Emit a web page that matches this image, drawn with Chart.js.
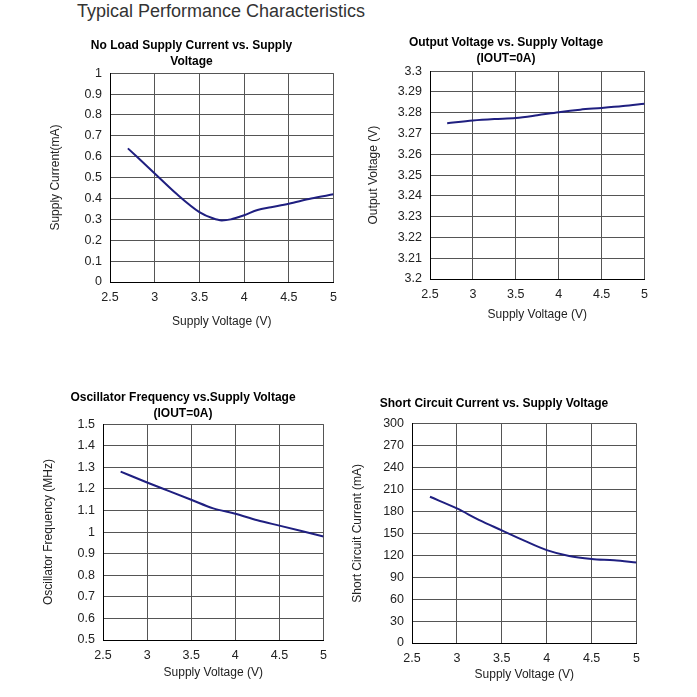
<!DOCTYPE html>
<html>
<head>
<meta charset="utf-8">
<script src="https://cdn.jsdelivr.net/npm/chart.js@4.4.1/dist/chart.umd.min.js"></script>
<style>
  html, body { margin: 0; padding: 0; background: #fff; }
  body { width: 697px; height: 697px; position: relative; overflow: hidden; font-family: "Liberation Sans", Arial, sans-serif; }
  #mainTitle { position: absolute; left: 77px; top: 1px; font-size: 18px; color: #333; }
  .box { position: absolute; }
</style>
</head>
<body>
<div id="mainTitle">Typical Performance Characteristics</div>
<div class="box" style="left:48px; top:36px; width:297px; height:293px;"><canvas id="c1"></canvas></div>
<div class="box" style="left:366px; top:34px; width:290px; height:288px;"><canvas id="c2"></canvas></div>
<div class="box" style="left:41px; top:387px; width:294px; height:293px;"><canvas id="c3"></canvas></div>
<div class="box" style="left:350px; top:396px; width:298px; height:286px;"><canvas id="c4"></canvas></div>
<script>
// Supply voltage axis shared by all four plots
const supplyVoltage = [2.7, 3.0, 3.25, 3.5, 3.75, 4.0, 4.25, 4.5, 4.75, 5.0];
const xTicks = [2.5, 3, 3.5, 4, 4.5, 5];

// No load supply current (mA)
const noLoadVoltage = [2.7, 3.0, 3.25, 3.5, 3.65, 3.75, 3.85, 4.0, 4.15, 4.3, 4.5, 4.75, 5.0];
const noLoadCurrent = [0.64, 0.52, 0.42, 0.335, 0.305, 0.295, 0.3, 0.32, 0.345, 0.358, 0.375, 0.4, 0.42];

// Output voltage (V), IOUT=0A
const outputVoltage = [3.275, 3.2763, 3.277, 3.2775, 3.2788, 3.2803, 3.2815, 3.2823, 3.2832, 3.2843];

// Oscillator frequency (MHz)
const oscFrequency = [1.28, 1.23, 1.19, 1.15, 1.11, 1.085, 1.055, 1.03, 1.005, 0.98];

// Short circuit current (mA)
const shortCircuit = [200, 184, 168, 154, 140, 127, 119, 115, 113, 110];

const lineColor = '#1f1f80';
const gridColor = '#555555';
const font = 'Liberation Sans';

function pairs(xs, ys) {
    return xs.map((x, i) => ({ x: x, y: ys[i] }));
}

function makeChart(id, title, yTitle, points, yMin, yMax, yStep, yWidth, xHeight, titlePad) {
    const ctx = document.getElementById(id).getContext('2d');
    return new Chart(ctx, {
        type: 'line',
        data: {
            datasets: [{
                data: points,
                borderColor: lineColor,
                borderWidth: 2,
                pointRadius: 0,
                cubicInterpolationMode: 'monotone',
                fill: false
            }]
        },
        options: {
            responsive: true,
            maintainAspectRatio: false,
            animation: false,
            layout: { padding: { top: 0, right: 10, bottom: 0, left: 0 } },
            plugins: {
                legend: { display: false },
                tooltip: { enabled: false },
                title: {
                    display: true,
                    text: title,
                    color: '#000',
                    font: { family: font, size: 12, weight: 'bold', lineHeight: 1.3 },
                    padding: titlePad
                }
            },
            scales: {
                x: {
                    type: 'linear',
                    min: 2.5,
                    max: 5,
                    afterBuildTicks: s => { s.ticks = xTicks.map(v => ({ value: v })); },
                    afterFit: s => { s.height = xHeight; },
                    grid: { color: gridColor, lineWidth: 1, drawTicks: false },
                    border: { color: '#000', width: 1 },
                    ticks: { color: '#222', padding: 8, font: { family: font, size: 12.5 }, callback: v => String(v) },
                    title: { display: true, text: 'Supply Voltage (V)', color: '#222', font: { family: font, size: 12 }, padding: { top: 2, bottom: 0 } }
                },
                y: {
                    min: yMin,
                    max: yMax,
                    ticks: {
                        stepSize: yStep,
                        color: '#222',
                        padding: 8,
                        font: { family: font, size: 12.5 },
                        callback: v => String(parseFloat(v.toFixed(3)))
                    },
                    afterFit: s => { s.width = yWidth; },
                    grid: { color: gridColor, lineWidth: 1, drawTicks: false },
                    border: { color: '#000', width: 1 },
                    title: { display: true, text: yTitle, color: '#222', font: { family: font, size: 12 }, padding: { top: 0, bottom: 4 } }
                }
            }
        }
    });
}

makeChart('c1', ['No Load Supply Current vs. Supply', 'Voltage'], 'Supply Current(mA)',
    pairs(noLoadVoltage, noLoadCurrent), 0, 1, 0.1, 62, 47, { top: 2, bottom: 4 });
makeChart('c2', ['Output Voltage vs. Supply Voltage', '(IOUT=0A)'], 'Output Voltage (V)',
    pairs(supplyVoltage, outputVoltage), 3.2, 3.3, 0.01, 64, 43, { top: 1, bottom: 5 });
makeChart('c3', ['Oscillator Frequency vs.Supply Voltage', '(IOUT=0A)'], 'Oscillator Frequency (MHz)',
    pairs(supplyVoltage, oscFrequency), 0.5, 1.5, 0.1, 62, 40, { top: 3, bottom: 3 });
makeChart('c4', 'Short Circuit Current vs. Supply Voltage', 'Short Circuit Current (mA)',
    pairs(supplyVoltage, shortCircuit), 0, 300, 30, 62, 39, { top: 0, bottom: 12 });
</script>
</body>
</html>
